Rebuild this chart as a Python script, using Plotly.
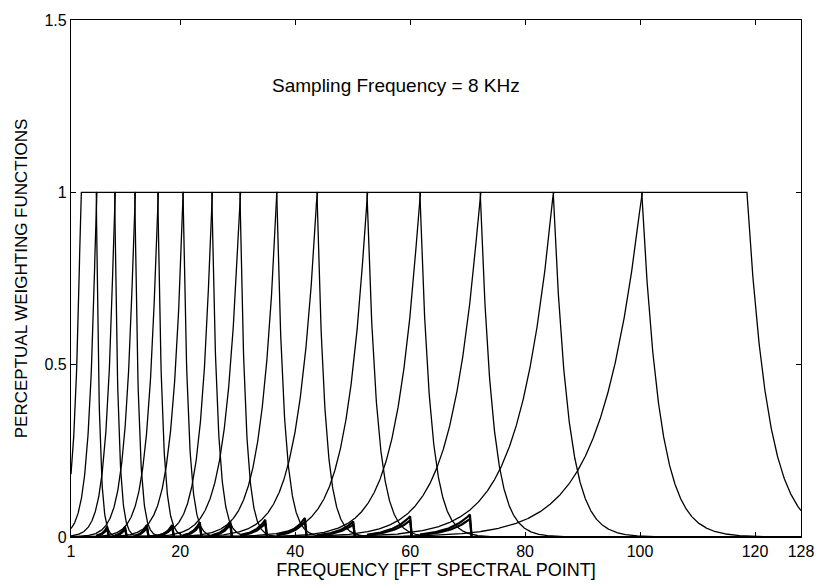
import numpy as np
import plotly.graph_objects as go

# Edges of the critical bands (FFT spectral points); band k spans edges[k]..edges[k+1]
band_edges = [2.7, 5.4, 8.6, 12.1, 16.1, 20.5, 25.5, 30.4, 36.8, 43.8,
              52.5, 61.7, 72.2, 84.9, 100.3, 118.6]
# Decay length on each side of a band, as a fraction of the band width
lower_decay = 0.37
upper_decay = 0.20

# Small saw-tooth residues near the baseline: start, peak position, peak value
bump_start = [5.4, 8.6, 12.1, 16.1, 20.5, 25.5, 30.4, 36.8, 43.8, 52.5, 61.7]
bump_peak = [7.3, 10.4, 14.2, 18.6, 23.4, 28.7, 34.8, 41.7, 50.1, 60.0, 70.4]
bump_height = [0.03, 0.03, 0.035, 0.035, 0.043, 0.045, 0.05, 0.055, 0.045, 0.06, 0.065]

x_ticks = [1, 20, 40, 60, 80, 100, 120, 128]
y_ticks = [0, 0.5, 1, 1.5]
y_tick_text = ["0", "0.5", "1", "1.5"]

FONT = "Liberation Sans, Arial, sans-serif"

freq = np.linspace(1, 128, 2541)

fig = go.Figure()

for lo, hi in zip(band_edges[:-1], band_edges[1:]):
    width = hi - lo
    w = np.ones_like(freq)
    below = freq < lo
    above = freq > hi
    w[below] = np.exp(-(lo - freq[below]) / (lower_decay * width))
    w[above] = np.exp(-(freq[above] - hi) / (upper_decay * width))
    fig.add_trace(go.Scatter(x=freq, y=w, mode="lines",
                             line=dict(color="black", width=1.3),
                             hoverinfo="skip", showlegend=False))

# Residue teeth, drawn as a doubled stroke so they read heavier than the curves
for x0, xp, h in zip(bump_start, bump_peak, bump_height):
    seg = np.linspace(x0, xp, 40)
    span = xp - x0
    for scale in (1.0, 0.8):
        yv = scale * h * np.exp(-(xp - seg) / (0.45 * span))
        xs = np.concatenate([seg, [xp + 0.3]])
        ys = np.concatenate([yv, [0.0]])
        fig.add_trace(go.Scatter(x=xs, y=ys, mode="lines",
                                 line=dict(color="black", width=2.2),
                                 hoverinfo="skip", showlegend=False))

fig.add_annotation(x=57.5, y=1.31, text="Sampling Frequency = 8 KHz",
                   showarrow=False, font=dict(family=FONT, size=19, color="black"))

fig.update_layout(
    width=830, height=588,
    margin=dict(l=71, r=29, t=18, b=47),
    paper_bgcolor="white", plot_bgcolor="white",
    font=dict(family=FONT, size=16, color="black"),
    xaxis=dict(range=[1, 128], tickvals=x_ticks, ticks="inside", ticklen=5,
               showgrid=False, zeroline=False, showline=True, mirror="ticks",
               linecolor="black", linewidth=1.3, tickcolor="black",
               tickfont=dict(family=FONT, size=16),
               title=dict(text="FREQUENCY [FFT SPECTRAL POINT]", standoff=3,
                          font=dict(family=FONT, size=18))),
    yaxis=dict(range=[0, 1.5], tickvals=y_ticks, ticktext=y_tick_text,
               ticks="inside", ticklen=5, showgrid=False, zeroline=False,
               showline=True, mirror="ticks", linecolor="black", linewidth=1.3,
               tickcolor="black", tickfont=dict(family=FONT, size=16),
               title=dict(text="PERCEPTUAL WEIGHTING FUNCTIONS", standoff=12,
                          font=dict(family=FONT, size=17))),
)

fig.write_html("out.html")
